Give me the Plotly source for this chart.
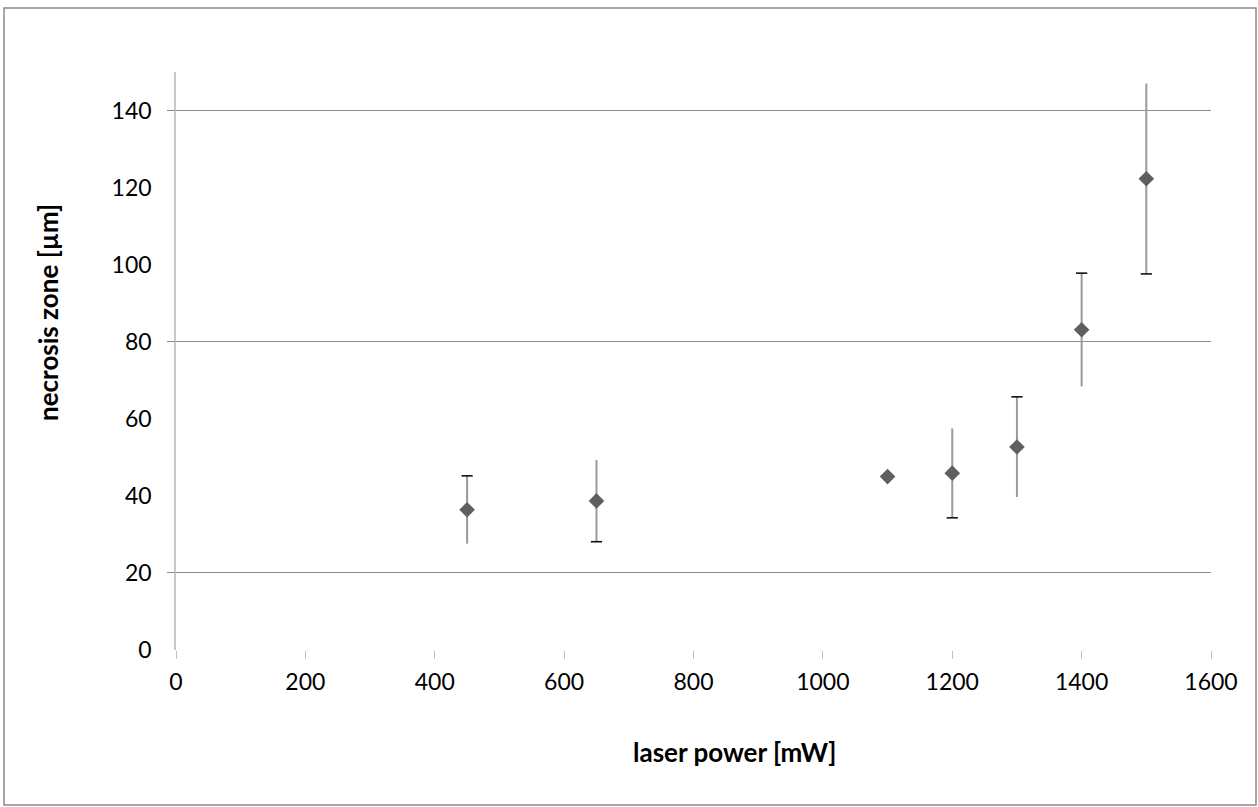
import plotly.graph_objects as go

# data
laser_power = [450, 650, 1100, 1200, 1300, 1400, 1500]
necrosis = [36.4, 38.7, 45.0, 45.9, 52.7, 83.1, 122.3]
err = [8.8, 10.6, 0.0, 11.6, 13.0, 14.7, 24.7]
cap_side = [1, -1, 0, -1, 1, 1, -1]  # which end shows a black cap
x_ticks = [0, 200, 400, 600, 800, 1000, 1200, 1400, 1600]
y_ticks = [0, 20, 40, 60, 80, 100, 120, 140]
y_grid = [20, 80, 140]

cap_x = [x for x, s in zip(laser_power, cap_side) if s != 0]
cap_y = [y + s * e for y, e, s in zip(necrosis, err, cap_side) if s != 0]

W, H = 1258, 807
L, R, T, B = 176, 47, 72, 157
pw, ph = W - L - R, H - T - B

def px(xp):
    return (xp - L) / pw

def py(yp):
    return (H - B - yp) / ph

font = "Lato, 'Open Sans', sans-serif"

fig = go.Figure()
fig.add_trace(go.Scatter(
    x=laser_power, y=necrosis, mode="markers",
    marker=dict(symbol="diamond", size=12, color="#5f5f5f"),
    error_y=dict(type="data", array=err, visible=True, color="#9a9a9a",
                 thickness=2, width=0),
    showlegend=False, yaxis="y",
))
fig.add_trace(go.Scatter(
    x=cap_x, y=cap_y, mode="markers",
    marker=dict(symbol="line-ew", size=8, line=dict(color="#111111", width=1.6)),
    showlegend=False, hoverinfo="skip",
))
# invisible trace on yaxis2 to activate it
fig.add_trace(go.Scatter(x=[None], y=[None], yaxis="y2", showlegend=False))

fig.update_layout(
    width=W, height=H,
    margin=dict(l=L, r=R, t=T, b=B),
    paper_bgcolor="white", plot_bgcolor="white",
    font=dict(family=font, size=23, color="#000000"),
    xaxis=dict(range=[0, 1600], tickvals=x_ticks, showgrid=False, zeroline=False,
               showline=False, ticks="outside", ticklen=8, tickwidth=1,
               tickcolor="#c0c0c0", tickfont=dict(size=23), ticklabelstandoff=3),
    yaxis=dict(range=[0, 150], tickvals=y_ticks, showgrid=False, zeroline=False,
               showline=True, linecolor="#c8c8c8", linewidth=1.5,
               ticks="", tickfont=dict(size=23), ticklabelstandoff=18),
    yaxis2=dict(range=[0, 150], overlaying="y", side="left", anchor="x",
                tickvals=y_grid, showgrid=True, gridcolor="#8c8c8c", gridwidth=1,
                ticks="outside", ticklen=8, tickcolor="#8c8c8c",
                showticklabels=False, zeroline=False, showline=False),
    annotations=[
        dict(text="<b>laser power [mW]</b>", x=px(734), y=py(752),
             xref="paper", yref="paper", showarrow=False,
             xanchor="center", yanchor="middle",
             font=dict(size=26, family=font)),
        dict(text="<b>necrosis zone [µm]</b>", x=px(48), y=py(313),
             xref="paper", yref="paper", showarrow=False, textangle=-90,
             xanchor="center", yanchor="middle",
             font=dict(size=26, family=font)),
    ],
    shapes=[
        dict(type="rect", xref="paper", yref="paper",
             x0=px(4), x1=px(1256), y0=py(805), y1=py(8),
             line=dict(color="#8a8a8a", width=1.5), layer="below"),
    ],
)

fig.write_html("out.html", config={"displayModeBar": False},
               post_script="document.body.style.margin='0';")
